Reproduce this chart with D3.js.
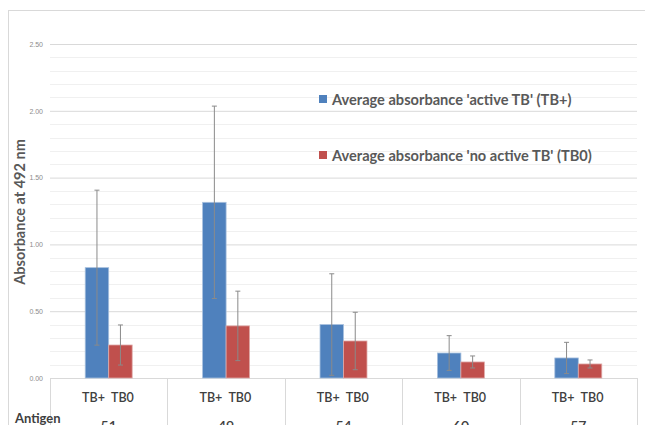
<!DOCTYPE html>
<html lang="en">
<head>
<style>
  body { margin: 0; background: #fff; }
  svg { font-family: Lato, "Open Sans", sans-serif; }
</style>
</head>
<body>
<script src="https://d3js.org/d3.v7.min.js"></script>
<script>
    const antigens = ["51", "49", "54", "60", "57"];
    const seriesKeys = ["TB+", "TB0"];
    const tbPlus = [0.826, 1.315, 0.40, 0.187, 0.15];
    const tbPlusErr = [0.58, 0.72, 0.38, 0.13, 0.117];
    const tb0 = [0.247, 0.39, 0.277, 0.12, 0.105];
    const tb0Err = [0.15, 0.26, 0.215, 0.045, 0.03];
    const yTicks = [0, 0.5, 1, 1.5, 2, 2.5];
    const legendLabels = ["Average absorbance 'active TB' (TB+)", "Average absorbance 'no active TB' (TB0)"];

    const width = 645, height = 425;
    const colors = ["#4f81bd", "#c0504d"];
    const strokes = ["#a7c0de", "#dfa9a8"];

    const svg = d3.select("body").append("svg")
        .attr("width", width)
        .attr("height", height);

    // chart frame
    svg.append("rect")
        .attr("x", 8.5).attr("y", 10.5)
        .attr("width", 660).attr("height", 440)
        .attr("fill", "none").attr("stroke", "#d9d9d9");

    const x0 = d3.scaleBand().domain(antigens).range([50, 637]).paddingInner(0).paddingOuter(0);
    const x1 = d3.scaleBand().domain(seriesKeys).range([0, x0.bandwidth() * 0.4]);
    const y = d3.scaleLinear().domain([0, 2.5]).range([378, 44]);

    // minor gridlines
    svg.append("g").selectAll("line")
        .data(d3.range(1, 25).filter(d => d % 5 != 0).map(d => d / 10))
        .enter().append("line")
        .attr("x1", 50).attr("x2", 637)
        .attr("y1", d => Math.round(y(d)) + 0.5).attr("y2", d => Math.round(y(d)) + 0.5)
        .attr("stroke", "#f0f0f0");

    // y axis with major gridlines
    const yAxis = d3.axisLeft(y).tickValues(yTicks).tickFormat(d3.format(".2f"))
        .tickSize(-(637 - 50)).tickPadding(7);
    const ya = svg.append("g").attr("transform", "translate(50,0)").call(yAxis);
    ya.select(".domain").remove();
    ya.selectAll(".tick line").attr("stroke", "#d9d9d9");
    ya.selectAll(".tick text").attr("fill", "#8c8c8c").style("font-size", "7px");

    // category separators under axis
    svg.append("g").selectAll("line")
        .data(antigens.concat(["end"]))
        .enter().append("line")
        .attr("x1", (d, i) => Math.round(50 + i * x0.bandwidth()) + 0.5)
        .attr("x2", (d, i) => Math.round(50 + i * x0.bandwidth()) + 0.5)
        .attr("y1", 378).attr("y2", 425)
        .attr("stroke", "#d9d9d9");

    const rows = antigens.map((a, i) => ({
        antigen: a,
        vals: [
            { key: "TB+", v: tbPlus[i], e: tbPlusErr[i], c: 0 },
            { key: "TB0", v: tb0[i], e: tb0Err[i], c: 1 }
        ]
    }));

    const groups = svg.append("g").selectAll("g")
        .data(rows)
        .enter().append("g")
        .attr("transform", d => "translate(" + (x0(d.antigen) + x0.bandwidth() * 0.3) + ",0)");

    groups.selectAll("rect")
        .data(d => d.vals)
        .enter().append("rect")
        .attr("x", d => x1(d.key))
        .attr("width", x1.bandwidth())
        .attr("y", d => y(d.v))
        .attr("height", d => y(0) - y(d.v))
        .attr("fill", d => colors[d.c])
        .attr("stroke", d => strokes[d.c])
        .attr("stroke-width", 0.8);

    // error bars
    const eb = groups.selectAll("g.err")
        .data(d => d.vals)
        .enter().append("g").attr("class", "err")
        .attr("stroke", "#8a8a8a").attr("stroke-width", 1);
    eb.append("line")
        .attr("x1", d => x1(d.key) + x1.bandwidth() / 2)
        .attr("x2", d => x1(d.key) + x1.bandwidth() / 2)
        .attr("y1", d => y(d.v + d.e)).attr("y2", d => y(Math.max(0, d.v - d.e)));
    eb.append("line")
        .attr("x1", d => x1(d.key) + x1.bandwidth() / 2 - 2.5)
        .attr("x2", d => x1(d.key) + x1.bandwidth() / 2 + 2.5)
        .attr("y1", d => y(d.v + d.e)).attr("y2", d => y(d.v + d.e));
    eb.append("line")
        .attr("x1", d => x1(d.key) + x1.bandwidth() / 2 - 2.5)
        .attr("x2", d => x1(d.key) + x1.bandwidth() / 2 + 2.5)
        .attr("y1", d => y(Math.max(0, d.v - d.e))).attr("y2", d => y(Math.max(0, d.v - d.e)));

    // series labels under bars
    groups.selectAll("text.sub")
        .data(d => d.vals)
        .enter().append("text").attr("class", "sub")
        .attr("x", d => x1(d.key) + x1.bandwidth() / 2 + (d.c == 0 ? -3.5 : 2))
        .attr("y", 402)
        .attr("text-anchor", "middle")
        .attr("fill", "#404040")
        .style("font-size", "12.5px").style("font-weight", "600")
        .text(d => d.key);

    // antigen labels (cut by the bottom edge, as in the original)
    svg.append("g").selectAll("text")
        .data(antigens)
        .enter().append("text")
        .attr("x", d => x0(d) + x0.bandwidth() / 2)
        .attr("y", 431)
        .attr("text-anchor", "middle")
        .attr("fill", "#404040")
        .style("font-size", "14px").style("font-weight", "600")
        .text(d => d);

    svg.append("text")
        .attr("x", 15).attr("y", 423)
        .attr("fill", "#404040")
        .style("font-size", "13px").style("font-weight", "700")
        .text("Antigen");

    // y title
    svg.append("text")
        .attr("transform", "translate(25,212) rotate(-90)")
        .attr("text-anchor", "middle")
        .attr("fill", "#595959")
        .style("font-size", "14.5px").style("font-weight", "700")
        .text("Absorbance at 492 nm");

    // legend
    const leg = svg.append("g").selectAll("g")
        .data(legendLabels)
        .enter().append("g")
        .attr("transform", (d, i) => "translate(319," + (99 + i * 56) + ")");
    leg.append("rect")
        .attr("x", 0).attr("y", -4).attr("width", 8).attr("height", 8)
        .attr("fill", (d, i) => colors[i]);
    leg.append("text")
        .attr("x", 13).attr("y", 5.5)
        .attr("fill", "#595959")
        .style("font-size", "14.6px").style("font-weight", "700")
        .text(d => d);
</script>
</body>
</html>
